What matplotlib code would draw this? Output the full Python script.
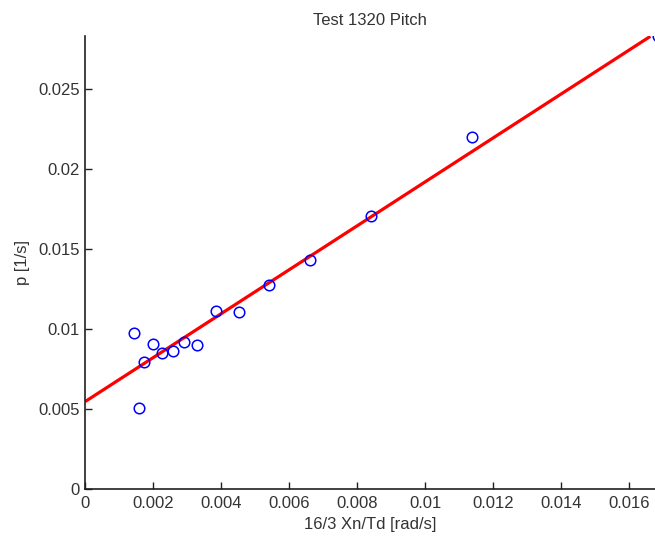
import matplotlib
matplotlib.use("Agg")
import matplotlib.pyplot as plt
import numpy as np

plt.rcParams['font.family'] = ['Liberation Sans', 'DejaVu Sans']

# Measured pitch rate versus the scaled quantity 16/3 Xn/Td
x_vals = [0.00144, 0.00159, 0.00174, 0.00198, 0.00225, 0.00257, 0.00291,
          0.00329, 0.00384, 0.00453, 0.00541, 0.00661, 0.00840, 0.01136,
          0.01684]
p_vals = [0.00973, 0.00503, 0.00793, 0.00906, 0.00848, 0.00862, 0.00914,
          0.00899, 0.01108, 0.01106, 0.01275, 0.01427, 0.01703, 0.02197,
          0.02829]

# Linear fit p = intercept + slope * x
fit_intercept = 0.00545
fit_slope = 1.373
fit_x_end = 0.01662

x_ticks = [0, 0.002, 0.004, 0.006, 0.008, 0.01, 0.012, 0.014, 0.016]
x_tick_labels = ['0', '0.002', '0.004', '0.006', '0.008', '0.01', '0.012', '0.014', '0.016']
y_ticks = [0, 0.005, 0.01, 0.015, 0.02, 0.025]
y_tick_labels = ['0', '0.005', '0.01', '0.015', '0.02', '0.025']

fig = plt.figure(figsize=(6.55, 5.38), dpi=100)
ax = fig.add_axes([0.1302, 0.0916, 0.8698, 0.8409])

fx = np.array([0.0, fit_x_end])
ax.plot(fx, fit_intercept + fit_slope * fx, color=(1.0, 0.0, 0.0), lw=2.3,
        solid_capstyle='butt', zorder=2)
ax.plot(x_vals, p_vals, linestyle='none', marker='o', ms=7.6, mfc='none',
        mec=(0.0, 0.0, 1.0), mew=1.1, zorder=3)

ax.set_xlim(0, 0.016756)
ax.set_ylim(0, 0.02827)
ax.set_xticks(x_ticks)
ax.set_xticklabels(x_tick_labels)
ax.set_yticks(y_ticks)
ax.set_yticklabels(y_tick_labels)

for side in ('top', 'right'):
    ax.spines[side].set_visible(False)
for side in ('left', 'bottom'):
    ax.spines[side].set_linewidth(1.2)
    ax.spines[side].set_color('#202020')

ax.tick_params(direction='in', length=5, width=1.0, colors='#202020',
               labelsize=12, labelcolor='#333333')
ax.tick_params(axis='x', pad=5)
ax.tick_params(axis='y', pad=4)

ax.set_title('Test 1320 Pitch', fontsize=12, color='#333333', pad=8.5)
ax.set_xlabel('16/3 Xn/Td [rad/s]', fontsize=12, color='#333333', labelpad=4.5)
ax.set_ylabel('p [1/s]', fontsize=12, color='#333333', labelpad=5.5)

fig.savefig('out.png', dpi=100)
